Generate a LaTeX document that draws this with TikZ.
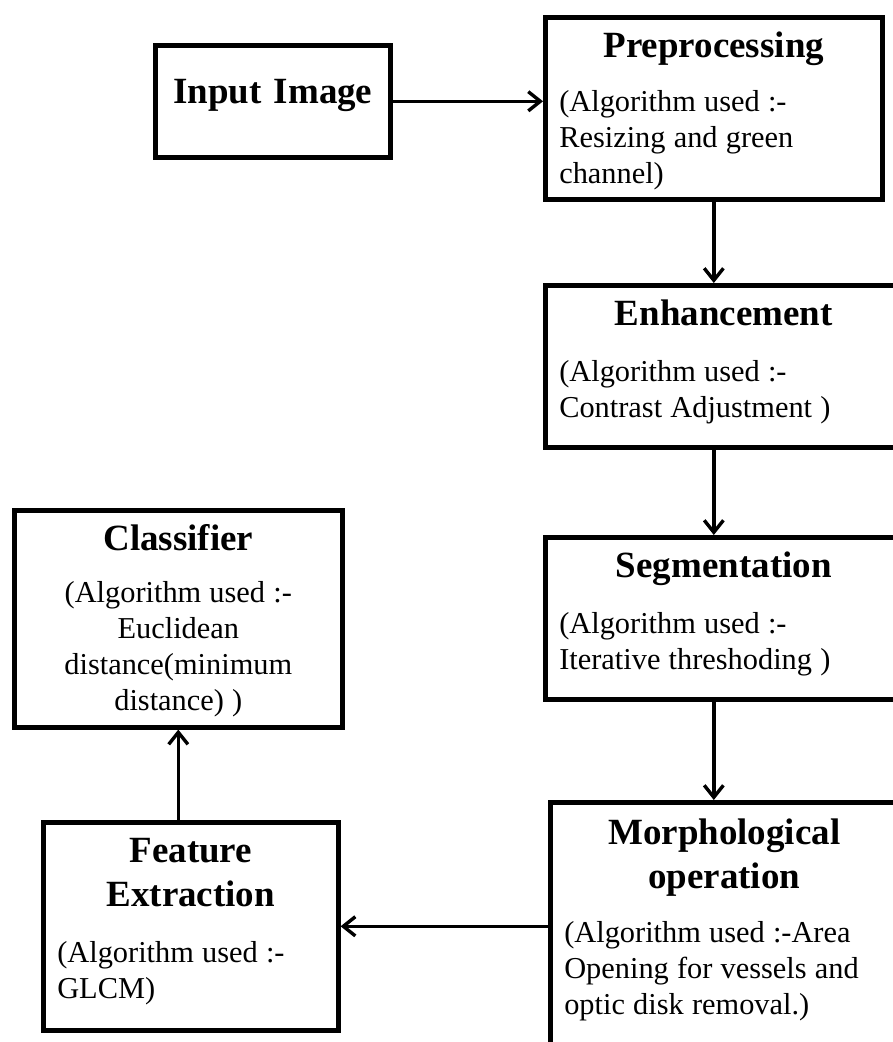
\documentclass[tikz,border=0pt]{standalone}
\usepackage{fontspec}
\setmainfont{Liberation Serif}
\usetikzlibrary{arrows.meta}

\newcommand{\ttlfont}{\fontsize{26.3pt}{1.1cm}\selectfont\bfseries\spaceskip=0.32em plus 0.1em}
\newcommand{\algfont}{\fontsize{21.6pt}{0.9cm}\selectfont\spaceskip=0.27em plus 0.1em}

\tikzset{
  stage/.style={draw, line width=0.115cm, anchor=north west, inner ysep=0pt, inner xsep=0.35cm, text height=1cm},
  flow/.style={line width=0.085cm, -{Straight Barb[length=0.3cm,width=0.48cm]}}
}

\begin{document}
\begin{tikzpicture}[x=1cm,y=1cm]
\path[use as bounding box, fill=white] (0,0) rectangle (22.325,-26.05);
\clip (0,0) rectangle (22.325,-26.05);

\node[stage, text width=5.175cm, align=center, text height=1.45cm, text depth=1.35cm] (inp) at (3.825,-1.075) {\ttlfont Input Image};

\node[stage, text width=7.725cm, text depth=3.55cm] (pre) at (13.575,-0.375)
  {{\centering\ttlfont Preprocessing\par}\vspace{0.45cm}\algfont\raggedright (Algorithm used :-\\Resizing and green\\channel)\par};
\node[stage, text width=8.225cm, text depth=3.05cm] (enh) at (13.575,-7.075)
  {{\centering\ttlfont Enhancement\par}\vspace{0.5cm}\algfont\raggedright (Algorithm used :-\\Contrast Adjustment )\par};
\node[stage, text width=8.225cm, text depth=3.05cm] (seg) at (13.575,-13.375)
  {{\centering\ttlfont Segmentation\par}\vspace{0.5cm}\algfont\raggedright (Algorithm used :-\\Iterative threshoding )\par};
\node[stage, text width=8cm, text height=1.05cm, text depth=5.5cm] (morph) at (13.7,-20)
  {{\centering\ttlfont Morphological\\operation\par}\vspace{0.45cm}\algfont\raggedright (Algorithm used :-Area\\Opening for vessels and\\optic disk removal.)\par};

\node[stage, text width=6.675cm, text depth=4.2cm] (feat) at (1.025,-20.5)
  {{\centering\ttlfont Feature\\Extraction\par}\vspace{0.5cm}\algfont\raggedright (Algorithm used :-\\GLCM)\par};
\node[stage, text width=7.5cm, text depth=4.425cm] (cls) at (0.3,-12.7)
  {{\centering\ttlfont Classifier\par}\vspace{0.4cm}\algfont\centering (Algorithm used :-\\Euclidean\\distance(minimum\\distance) )\par};

\draw[flow] (inp.east) -- (inp.east -| pre.west);
\draw[flow] (pre.south) -- (pre.south |- enh.north);
\draw[flow] (enh.south -| pre.south) -- (seg.north -| pre.south);
\draw[flow] (seg.south -| pre.south) -- (morph.north -| pre.south);
\draw[flow] (feat.east -| morph.west) -- (feat.east);
\draw[flow] (feat.north -| cls.south) -- (cls.south);
\end{tikzpicture}
\end{document}
